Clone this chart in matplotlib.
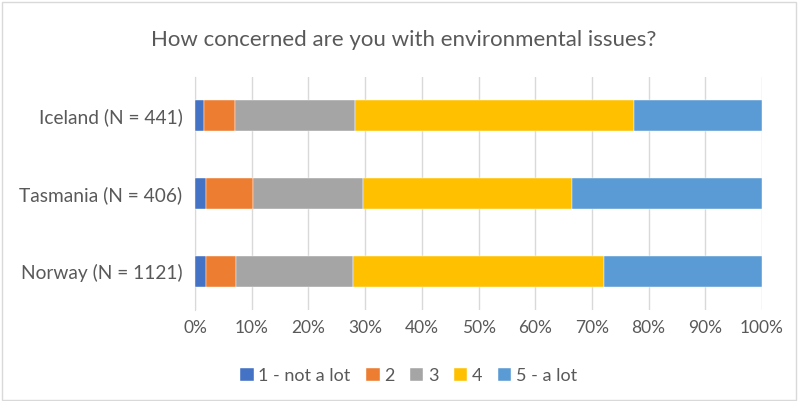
import matplotlib.pyplot as plt
from matplotlib.patches import Rectangle

countries = ['Norway (N = 1121)', 'Tasmania (N = 406)', 'Iceland (N = 441)']
levels = ['1 - not a lot', '2', '3', '4', '5 - a lot']
# percent share per level, same order as countries
not_a_lot = [1.9, 2.0, 1.6]
level_2 = [5.3, 8.2, 5.4]
level_3 = [20.6, 19.4, 21.3]
level_4 = [44.3, 36.8, 49.1]
a_lot = [27.9, 33.6, 22.6]
colors = ['#4472C4', '#ED7D31', '#A5A5A5', '#FFC000', '#5B9BD5']

plt.rcParams['font.family'] = ['Lato', 'DejaVu Sans']
text_col = '#595959'

fig = plt.figure(figsize=(7.98, 4.01), dpi=100)
ax = fig.add_axes([0.2444, 0.2257, 0.7105, 0.5833])

r = list(range(len(countries)))
left = [0, 0, 0]
for vals, lab, col in zip([not_a_lot, level_2, level_3, level_4, a_lot], levels, colors):
    ax.barh(r, vals, left=left, height=0.4, color=col, label=lab,
            edgecolor='white', linewidth=0.3, zorder=3)
    left = [a + b for a, b in zip(left, vals)]

ax.set_xlim(0, 100)
ax.set_ylim(-0.5, 2.5)
ax.set_xticks(range(0, 101, 10))
ax.set_xticklabels([f'{i}%' for i in range(0, 101, 10)])
ax.set_yticks(r)
ax.set_yticklabels(countries)
ax.tick_params(axis='both', length=0, colors=text_col)
ax.tick_params(axis='x', pad=7, labelsize=12.5)
ax.tick_params(axis='y', pad=9, labelsize=13.8)
ax.grid(axis='x', color='#D9D9D9', linewidth=1, zorder=0)
for s in ['top', 'right', 'bottom']:
    ax.spines[s].set_visible(False)
ax.spines['left'].set_color('#D9D9D9')
ax.spines['left'].set_zorder(1)

fig.text(0.506, 0.90, 'How concerned are you with environmental issues?',
         ha='center', va='center', fontsize=16, color=text_col)

fig.legend(loc='center', bbox_to_anchor=(0.512, 0.062), ncol=5, frameon=False,
           fontsize=13, labelcolor=text_col, handlelength=0.75, handleheight=0.75,
           handletextpad=0.25, columnspacing=0.85)

fig.patches.append(Rectangle((0.002, 0.003), 0.995, 0.993, transform=fig.transFigure,
                             fill=False, edgecolor='#D9D9D9', linewidth=1))

fig.savefig('out.png', dpi=100)
